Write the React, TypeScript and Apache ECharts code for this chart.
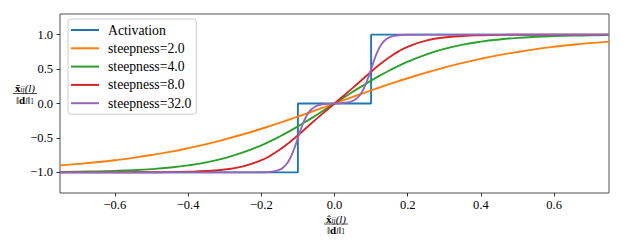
import React, { useEffect, useRef } from 'react';
import * as echarts from 'echarts';

// x positions shared by the smooth curves (steepness 2, 4, 8)
const xGrid = [
  -0.75, -0.7, -0.65, -0.6, -0.55, -0.5, -0.45, -0.4, -0.35, -0.3, -0.25,
  -0.2, -0.175, -0.15, -0.125, -0.1, -0.075, -0.05, -0.025,
  0,
  0.025, 0.05, 0.075, 0.1, 0.125, 0.15, 0.175, 0.2,
  0.25, 0.3, 0.35, 0.4, 0.45, 0.5, 0.55, 0.6, 0.65, 0.7, 0.75,
];

const steep2 = [
  -0.8986, -0.8777, -0.8528, -0.8235, -0.789, -0.7489, -0.7025, -0.6493, -0.5892, -0.522, -0.4479,
  -0.3672, -0.3247, -0.2809, -0.2359, -0.19, -0.1432, -0.0958, -0.048,
  0,
  0.048, 0.0958, 0.1432, 0.19, 0.2359, 0.2809, 0.3247, 0.3672,
  0.4479, 0.522, 0.5892, 0.6493, 0.7025, 0.7489, 0.789, 0.8235, 0.8528, 0.8777, 0.8986,
];

const steep4 = [
  -0.9934, -0.9902, -0.9854, -0.9783, -0.9679, -0.9527, -0.9306, -0.8989, -0.8542, -0.7929, -0.7112,
  -0.6068, -0.5459, -0.4795, -0.408, -0.332, -0.2524, -0.1698, -0.0854,
  0,
  0.0854, 0.1698, 0.2524, 0.332, 0.408, 0.4795, 0.5459, 0.6068,
  0.7112, 0.7929, 0.8542, 0.8989, 0.9306, 0.9527, 0.9679, 0.9783, 0.9854, 0.9902, 0.9934,
];

const steep8 = [
  -1.0, -1.0, -0.9999, -0.9997, -0.9993, -0.9983, -0.9962, -0.9915, -0.9813, -0.9592, -0.9132,
  -0.8239, -0.7564, -0.672, -0.5721, -0.4609, -0.344, -0.2269, -0.1123,
  0,
  0.1123, 0.2269, 0.344, 0.4609, 0.5721, 0.672, 0.7564, 0.8239,
  0.9132, 0.9592, 0.9813, 0.9915, 0.9962, 0.9983, 0.9993, 0.9997, 0.9999, 1.0, 1.0,
];

// finer x positions for the sharp curve (steepness 32)
const xSharp = [
  -0.75, -0.5, -0.3, -0.25, -0.2, -0.18, -0.16, -0.15, -0.14, -0.13, -0.12, -0.11,
  -0.1, -0.09, -0.08, -0.07, -0.06, -0.05, -0.04, -0.02,
  0,
  0.02, 0.04, 0.05, 0.06, 0.07, 0.08, 0.09, 0.1,
  0.11, 0.12, 0.13, 0.14, 0.15, 0.16, 0.18, 0.2, 0.25, 0.3, 0.5, 0.75,
];

const steep32 = [
  -1.0, -1.0, -1.0, -1.0, -0.9983, -0.9941, -0.9789, -0.9608, -0.9283, -0.8721, -0.7824, -0.6547,
  -0.5, -0.3453, -0.2176, -0.1279, -0.0717, -0.0391, -0.0209, -0.0055,
  0,
  0.0055, 0.0209, 0.0391, 0.0717, 0.1279, 0.2176, 0.3453, 0.5,
  0.6547, 0.7824, 0.8721, 0.9283, 0.9608, 0.9789, 0.9941, 0.9983, 1.0, 1.0, 1.0, 1.0,
];

// step activation
const actX = [-0.75, -0.1, -0.1, 0.1, 0.1, 0.75];
const actY = [-1, -1, 0, 0, 1, 1];

const xTickValues = [-0.6, -0.4, -0.2, 0, 0.2, 0.4, 0.6];
const xTickLabels = ['\u22120.6', '\u22120.4', '\u22120.2', '0.0', '0.2', '0.4', '0.6'];
const yTickValues = [-1, -0.5, 0, 0.5, 1];
const yTickLabels = ['\u22121.0', '\u22120.5', '0.0', '0.5', '1.0'];

const seriesNames = ['Activation', 'steepness=2.0', 'steepness=4.0', 'steepness=8.0', 'steepness=32.0'];
const colors = ['#1f77b4', '#ff7f0e', '#2ca02c', '#d62728', '#9467bd'];

const FONT = '"Liberation Serif", "DejaVu Serif", serif';

const zip = (xs: number[], ys: number[]) => xs.map((x, i) => [x, ys[i]]);

const labelFor = (vals: number[], labels: string[]) => (v: number) => {
  const i = vals.findIndex((t) => Math.abs(t - v) < 1e-9);
  return i >= 0 ? labels[i] : '';
};

const richFrac = {
  b: { fontFamily: FONT, fontSize: 11, fontWeight: 'bold', fill: '#000', lineHeight: 11 },
  n: { fontFamily: FONT, fontSize: 11, fontWeight: 'normal', fill: '#000', lineHeight: 11 },
  i: { fontFamily: FONT, fontSize: 11, fontWeight: 'normal', fontStyle: 'italic', fill: '#000', lineHeight: 11 },
  s: { fontFamily: FONT, fontSize: 7.5, fontWeight: 'normal', fontStyle: 'italic', fill: '#000', lineHeight: 7, verticalAlign: 'bottom' },
  sn: { fontFamily: FONT, fontSize: 7.5, fontWeight: 'normal', fill: '#000', lineHeight: 7, verticalAlign: 'bottom' },
};

const fraction = (cx: number, yNum: number, yBar: number, yDen: number, accent: string, half: number) => [
  {
    type: 'text',
    silent: true,
    style: {
      text: '{b|x' + accent + '}{s|ij}{i|(l)}',
      rich: richFrac,
      x: cx,
      y: yNum,
      align: 'center',
      verticalAlign: 'middle',
    },
  },
  {
    type: 'line',
    silent: true,
    shape: { x1: cx - half, y1: yBar, x2: cx + half, y2: yBar },
    style: { stroke: '#000', lineWidth: 0.7 },
  },
  {
    type: 'text',
    silent: true,
    style: {
      text: '{n|\u2016}{b|d}{s|l}{n|\u2016}{sn|1}',
      rich: richFrac,
      x: cx,
      y: yDen,
      align: 'center',
      verticalAlign: 'middle',
    },
  },
];

export default function App() {
  const ref = useRef<HTMLDivElement>(null);
  useEffect(() => {
    if (!ref.current) return;
    const chart = echarts.init(ref.current, undefined, { renderer: 'svg' });
    const curves = [
      zip(actX, actY),
      zip(xGrid, steep2),
      zip(xGrid, steep4),
      zip(xGrid, steep8),
      zip(xSharp, steep32),
    ];
    chart.setOption({
      animation: false,
      backgroundColor: '#ffffff',
      grid: {
        left: 60,
        right: 14,
        top: 14,
        bottom: 56,
        show: true,
        borderColor: '#505050',
        borderWidth: 1,
        backgroundColor: 'transparent',
      },
      xAxis: {
        type: 'value',
        min: -0.75,
        max: 0.75,
        axisLine: { show: false, onZero: false },
        splitLine: { show: false },
        axisTick: {
          show: true,
          inside: false,
          length: 3.5,
          customValues: xTickValues,
          lineStyle: { color: '#000', width: 0.8 },
        },
        axisLabel: {
          customValues: xTickValues,
          formatter: labelFor(xTickValues, xTickLabels),
          fontFamily: FONT,
          fontSize: 12.5,
          color: '#000',
          margin: 5.5,
        },
      },
      yAxis: {
        type: 'value',
        min: -1.3,
        max: 1.3,
        axisLine: { show: false, onZero: false },
        splitLine: { show: false },
        axisTick: {
          show: true,
          inside: false,
          length: 3.5,
          customValues: yTickValues,
          lineStyle: { color: '#000', width: 0.8 },
        },
        axisLabel: {
          customValues: yTickValues,
          formatter: labelFor(yTickValues, yTickLabels),
          fontFamily: FONT,
          fontSize: 12.5,
          color: '#000',
          margin: 7,
        },
      },
      legend: {
        show: true,
        orient: 'vertical',
        left: 68,
        top: 19,
        icon: 'rect',
        itemWidth: 28,
        itemHeight: 2,
        itemGap: 4.3,
        padding: [4, 5, 4, 3],
        backgroundColor: 'rgba(255,255,255,0.85)',
        borderColor: '#cccccc',
        borderWidth: 1,
        borderRadius: 3,
        data: seriesNames,
        textStyle: {
          fontFamily: FONT,
          fontSize: 13.7,
          lineHeight: 14,
          color: '#000',
          padding: [0, 0, 0, 4],
        },
      },
      graphic: [
        ...fraction(25, 88, 93.5, 99.5, '\u0304', 12),
        ...fraction(336, 218.5, 224, 230, '\u0302', 12),
      ],
      series: curves.map((d, i) => ({
        name: seriesNames[i],
        type: 'line',
        data: d,
        symbol: 'none',
        smooth: i === 0 ? false : 0.5,
        color: colors[i],
        lineStyle: { color: colors[i], width: 1.9 },
        z: 2 + i,
        clip: true,
      })),
    });
    return () => chart.dispose();
  }, []);
  return <div ref={ref} style={{ width: 623, height: 249, position: 'absolute', left: 0, top: 0 }} />;
}
